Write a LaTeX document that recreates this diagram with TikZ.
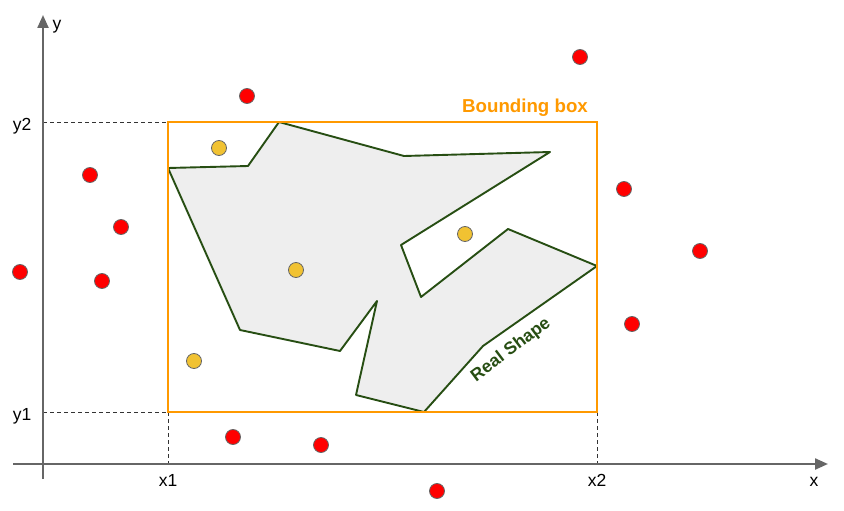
\documentclass[tikz,border=0pt]{standalone}
\usepackage{fontspec}
\setmainfont{Liberation Sans}
\usetikzlibrary{arrows.meta}
\definecolor{axisgray}{HTML}{666666}
\definecolor{boxorange}{HTML}{FF9900}
\definecolor{shapegreen}{HTML}{274E13}
\definecolor{shapefill}{HTML}{EEEEEE}
\definecolor{dotred}{HTML}{FF0000}
\definecolor{dotyellow}{HTML}{F1C232}
\definecolor{dotborder}{HTML}{666666}
\tikzset{
  axis/.style={draw=axisgray, line width=2.3pt, -{Triangle[length=13pt,width=11pt]}},
  guide/.style={draw=black!80, line width=0.7pt, dash pattern=on 4pt off 3pt},
  lbl/.style={font=\fontsize{17.5}{20}\selectfont, text=black, inner sep=0pt, anchor=base},
  reddot/.style={circle, fill=dotred, draw=dotborder, line width=0.8pt, minimum size=15pt, inner sep=0pt},
  yeldot/.style={circle, fill=dotyellow, draw=dotborder, line width=0.8pt, minimum size=15pt, inner sep=0pt},
}
\begin{document}
\begin{tikzpicture}[x=1pt,y=-1pt]
\useasboundingbox (0,0) rectangle (844,511);
% guides
\draw[guide] (43,122) -- (168,122);
\draw[guide] (43,412) -- (168,412);
\draw[guide] (168,412) -- (168,464);
\draw[guide] (597,412) -- (597,464);
% axes
\draw[axis] (13,464) -- (828,464);
\draw[axis] (43,479) -- (43,15);
% real shape
\draw[shapegreen, fill=shapefill, line width=1.9pt, line join=round]
  (168,168) -- (248,166) -- (279,122) -- (404,156) -- (550,152) -- (401,245)
  -- (421,297) -- (508,229) -- (597,266) -- (483,346) -- (424,412)
  -- (356,395) -- (377,301) -- (340,351) -- (240,330) -- cycle;
% bounding box
\draw[boxorange, line width=2pt] (168,122) rectangle (597,412);
\node[font=\fontsize{18.7}{22}\selectfont\bfseries, text=boxorange, inner sep=0pt, anchor=base] (bblabel) at (525,113) {Bounding box};
\node[font=\fontsize{17.5}{20}\selectfont\bfseries, text=shapegreen, inner sep=0pt, rotate=37] (rslabel) at (511,350) {Real Shape};
% axis labels
\node[lbl] (ly) at (57,30) {y};
\node[lbl] (ly2) at (22,131) {y2};
\node[lbl] (ly1) at (22,420) {y1};
\node[lbl] (lx1) at (168,486) {x1};
\node[lbl] (lx2) at (597,486) {x2};
\node[lbl] (lx) at (814,486) {x};
% red dots
\node[reddot] (r1) at (247,96) {};
\node[reddot] (r2) at (580,57) {};
\node[reddot] (r3) at (90,175) {};
\node[reddot] (r4) at (121,227) {};
\node[reddot] (r5) at (20,272) {};
\node[reddot] (r6) at (102,281) {};
\node[reddot] (r7) at (624,189) {};
\node[reddot] (r8) at (700,251) {};
\node[reddot] (r9) at (632,324) {};
\node[reddot] (r10) at (233,437) {};
\node[reddot] (r11) at (321,445) {};
\node[reddot] (r12) at (437,491) {};
% yellow dots
\node[yeldot] (y1) at (219,148) {};
\node[yeldot] (y2) at (465,234) {};
\node[yeldot] (y3) at (296,270) {};
\node[yeldot] (y4) at (194,361) {};
\end{tikzpicture}
\end{document}
